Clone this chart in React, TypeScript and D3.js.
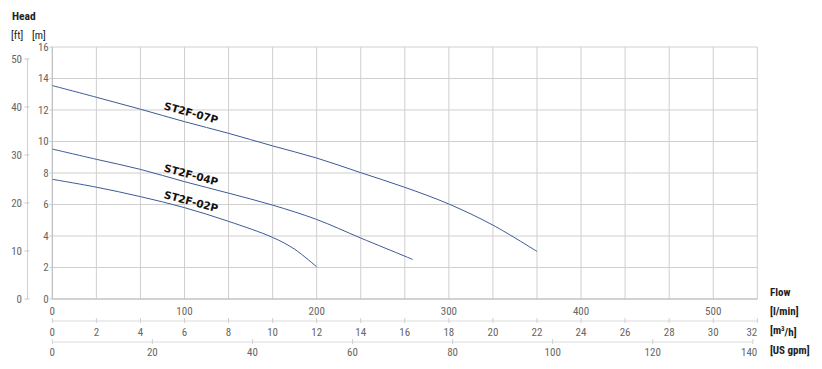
import React from 'react';
import * as d3 from 'd3';

const W = 822;
const H = 369;

// Pump curves: flow in m³/h, head in m
const flow07 = [0, 2, 4, 6, 8, 10, 12, 14, 16, 18, 20, 22];
const head07 = [13.55, 12.81, 12.05, 11.26, 10.52, 9.72, 8.95, 8.02, 7.09, 6.03, 4.69, 3.02];
const flow04 = [0, 2, 4, 6, 8, 10, 12, 14, 16, 16.36];
const head04 = [9.52, 8.87, 8.23, 7.45, 6.72, 5.96, 5.05, 3.87, 2.72, 2.51];
const flow02 = [0, 2, 4, 6, 8, 10, 11, 12];
const head02 = [7.6, 7.1, 6.5, 5.8, 4.93, 3.91, 3.16, 2.04];

const seriesNames = ['ST2F-07P', 'ST2F-04P', 'ST2F-02P'];
const labelAtFlow = [6.3, 6.3, 6.3]; // m³/h where the label sits
const labelOffset = [-10.5, -8.5, -8.2];

const mTicks = [0, 2, 4, 6, 8, 10, 12, 14, 16];
const ftTicks = [0, 10, 20, 30, 40, 50];
const lminTicks = [0, 100, 200, 300, 400, 500];
const m3hTicks = [0, 2, 4, 6, 8, 10, 12, 14, 16, 18, 20, 22, 24, 26, 28, 30, 32];
const gpmTicks = [0, 20, 40, 60, 80, 100, 120, 140];

const M3H_TO_LMIN = 1000 / 60;
const GPM_TO_LMIN = 3.78541;
const M_TO_FT = 3.28084;

const tickFont = "'Liberation Sans Narrow', 'Roboto Condensed', 'Arial Narrow', Roboto, sans-serif";
const tickColor = '#666';
const gridColor = '#cfcfcf';
const lineColor = '#3d5a96';

export default function App() {
  const x = d3.scaleLinear().domain([0, 32 * M3H_TO_LMIN]).range([52.3, 757.3]);
  const y = d3.scaleLinear().domain([0, 16]).range([299, 47]);
  const yFt = d3.scaleLinear().domain([0, 16 * M_TO_FT]).range([299, 47]);

  const line = d3
    .line<[number, number]>()
    .x((d) => x(d[0] * M3H_TO_LMIN))
    .y((d) => y(d[1]))
    .curve(d3.curveCatmullRom.alpha(0.5));

  const series = [
    { flow: flow07, head: head07 },
    { flow: flow04, head: head04 },
    { flow: flow02, head: head02 },
  ];

  const xL = x.range()[0];
  const xR = x.range()[1];
  const yB = y.range()[0];
  const yT = y.range()[1];

  const m3hAxisY = 321;
  const gpmAxisY = 342;
  const ftAxisX = 27.5;

  const interp = (fl: number[], hd: number[], q: number) => {
    for (let i = 0; i < fl.length - 1; i++) {
      if (q >= fl[i] && q <= fl[i + 1]) {
        const t = (q - fl[i]) / (fl[i + 1] - fl[i]);
        return hd[i] + t * (hd[i + 1] - hd[i]);
      }
    }
    return hd[hd.length - 1];
  };

  const lastAnchor = (px: number, label: string, limit: number) => {
    const half = label.length * 2.6;
    if (px + half > limit) return { x: limit, anchor: 'end' as const };
    return { x: px, anchor: 'middle' as const };
  };

  return (
    <svg
      width={W}
      height={H}
      style={{ position: 'absolute', left: 0, top: 0, background: '#fff' }}
      fontFamily={tickFont}
    >
      {/* vertical grid */}
      {m3hTicks.map((t) => (
        <line
          key={'vg' + t}
          x1={x(t * M3H_TO_LMIN)}
          x2={x(t * M3H_TO_LMIN)}
          y1={yT}
          y2={yB}
          stroke={gridColor}
          strokeWidth={1}
        />
      ))}
      {/* horizontal grid */}
      {mTicks.map((t) => (
        <line
          key={'hg' + t}
          x1={xL - 3}
          x2={xR}
          y1={y(t)}
          y2={y(t)}
          stroke={gridColor}
          strokeWidth={1}
        />
      ))}
      {/* plot frame left & bottom */}
      <line x1={xL} x2={xL} y1={yT} y2={yB} stroke="#bdbdbd" />
      <line x1={xL} x2={xR} y1={yB} y2={yB} stroke="#bdbdbd" />

      {/* m axis labels */}
      {mTicks.map((t) => (
        <text
          key={'ml' + t}
          x={xL - 3.5}
          y={y(t)}
          dy="0.35em"
          textAnchor="end"
          fontSize={11}
          fill={tickColor}
        >
          {t}
        </text>
      ))}

      {/* ft axis */}
      <line x1={ftAxisX} x2={ftAxisX} y1={yFt(50)} y2={yFt(0)} stroke="#d0d0d0" />
      {ftTicks.map((t) => (
        <g key={'ft' + t}>
          <line x1={ftAxisX - 3} x2={ftAxisX + 2} y1={yFt(t)} y2={yFt(t)} stroke="#c8c8c8" />
          <text
            x={ftAxisX - 5.5}
            y={yFt(t)}
            dy="0.35em"
            textAnchor="end"
            fontSize={11}
            fill={tickColor}
          >
            {t}
          </text>
        </g>
      ))}

      {/* l/min labels */}
      {lminTicks.map((t) => (
        <text
          key={'lm' + t}
          x={x(t)}
          y={311}
          dy="0.35em"
          textAnchor="middle"
          fontSize={11}
          fill={tickColor}
        >
          {t}
        </text>
      ))}

      {/* m³/h axis */}
      <line x1={xL} x2={x(32 * M3H_TO_LMIN)} y1={m3hAxisY} y2={m3hAxisY} stroke="#dadada" />
      {m3hTicks.map((t) => {
        const px = x(t * M3H_TO_LMIN);
        const p = lastAnchor(px, String(t), xR);
        return (
          <g key={'m3' + t}>
            <line x1={px} x2={px} y1={m3hAxisY - 3} y2={m3hAxisY + 2} stroke="#cfcfcf" />
            <text x={p.x} y={332.5} dy="0.35em" textAnchor={p.anchor} fontSize={11} fill={tickColor}>
              {t}
            </text>
          </g>
        );
      })}

      {/* US gpm axis */}
      <line x1={xL} x2={x(140 * GPM_TO_LMIN)} y1={gpmAxisY} y2={gpmAxisY} stroke="#dadada" />
      {gpmTicks.map((t) => {
        const px = x(t * GPM_TO_LMIN);
        const p = lastAnchor(px, String(t), xR);
        return (
          <g key={'gp' + t}>
            <line x1={px} x2={px} y1={gpmAxisY - 3} y2={gpmAxisY + 2} stroke="#cfcfcf" />
            <text x={p.x} y={352.5} dy="0.35em" textAnchor={p.anchor} fontSize={11} fill={tickColor}>
              {t}
            </text>
          </g>
        );
      })}

      {/* curves */}
      {series.map((s, i) => (
        <path
          key={'c' + i}
          d={line(s.flow.map((f, j) => [f, s.head[j]] as [number, number])) || ''}
          fill="none"
          stroke={lineColor}
          strokeWidth={1}
        />
      ))}

      {/* curve labels */}
      {series.map((s, i) => {
        const q = labelAtFlow[i];
        const px = x(q * M3H_TO_LMIN);
        const py = y(interp(s.flow, s.head, q)) + labelOffset[i];
        return (
          <text
            key={'lab' + i}
            transform={`translate(${px},${py}) rotate(15)`}
            textAnchor="middle"
            dy="0.35em"
            fontFamily="'DejaVu Sans', sans-serif"
            fontWeight="bold"
            fontSize={10.5}
            fill="#111"
          >
            {seriesNames[i]}
          </text>
        );
      })}

      {/* titles */}
      <text x={12} y={16} dy="0.35em" fontSize={11.5} fontWeight="bold" fill="#222">
        Head
      </text>
      <text x={11} y={35} dy="0.35em" fontSize={11} fill="#222">
        [ft]
      </text>
      <text x={32} y={35} dy="0.35em" fontSize={11} fill="#222">
        [m]
      </text>

      <text x={770} y={292.5} dy="0.35em" fontSize={11} fontWeight="bold" fill="#222">
        Flow
      </text>
      <text x={770} y={311} dy="0.35em" fontSize={11} fontWeight="bold" fill="#222">
        [l/min]
      </text>
      <text x={770} y={330.5} dy="0.35em" fontSize={11} fontWeight="bold" fill="#222">
        [m<tspan fontSize={7} dy="-0.5em">3</tspan>
        <tspan dy="0.5em">/h]</tspan>
      </text>
      <text x={770} y={350.5} dy="0.35em" fontSize={11} fontWeight="bold" fill="#222">
        [US gpm]
      </text>
    </svg>
  );
}
